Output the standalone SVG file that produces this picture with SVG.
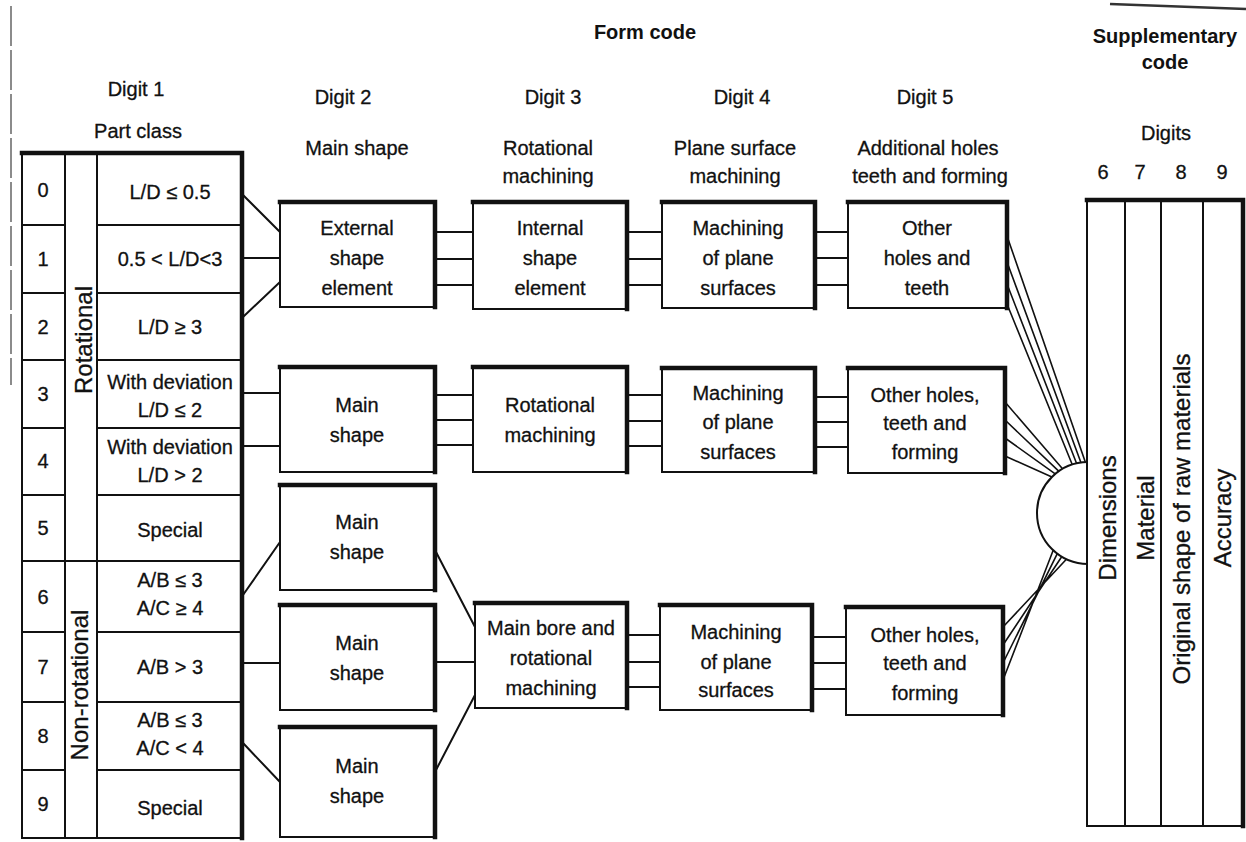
<svg xmlns="http://www.w3.org/2000/svg" width="1246" height="842" viewBox="0 0 1246 842">
<style>
.t{font-family:"Liberation Sans",Arial,sans-serif;font-size:20px;text-anchor:middle;dominant-baseline:central;fill:#111;stroke:#111;stroke-width:0.3}
.b{font-family:"Liberation Sans",Arial,sans-serif;font-size:20px;font-weight:bold;text-anchor:middle;dominant-baseline:central;fill:#111}
.r{font-family:"Liberation Sans",Arial,sans-serif;font-size:24px;text-anchor:middle;dominant-baseline:central;fill:#111;stroke:#111;stroke-width:0.3}
.bx{fill:#fff;stroke:#111;stroke-width:2}
.th{fill:none;stroke:#111;stroke-width:4.5;stroke-linecap:square}
.ln{fill:none;stroke:#111;stroke-width:2}
.cn{fill:none;stroke:#111;stroke-width:2}
.cf{fill:none;stroke:#111;stroke-width:1.6}
</style>
<rect width="1246" height="842" fill="#fff"/>
<g id="scan-edges">
<line x1="11" y1="6" x2="11" y2="385" stroke="#666" stroke-width="1.5" stroke-dasharray="40 4"/>
<path d="M1110 4 L1246 9" stroke="#333" stroke-width="2.5" fill="none"/>
</g>
<g id="headers">
<text class="b" x="645" y="32">Form code</text>
<text class="b" x="1165" y="36">Supplementary</text>
<text class="b" x="1165" y="62">code</text>
<text class="t" x="136" y="89">Digit 1</text>
<text class="t" x="138" y="131">Part class</text>
<text class="t" x="343" y="97">Digit 2</text>
<text class="t" x="357" y="148">Main shape</text>
<text class="t" x="553" y="97">Digit 3</text>
<text class="t" x="548" y="148">Rotational</text>
<text class="t" x="548" y="176">machining</text>
<text class="t" x="742" y="97">Digit 4</text>
<text class="t" x="735" y="148">Plane surface</text>
<text class="t" x="735" y="176">machining</text>
<text class="t" x="925" y="97">Digit 5</text>
<text class="t" x="928" y="148">Additional holes</text>
<text class="t" x="930" y="176">teeth and forming</text>
<text class="t" x="1166" y="133">Digits</text>
<text class="t" x="1103" y="172">6</text>
<text class="t" x="1140" y="172">7</text>
<text class="t" x="1181" y="172">8</text>
<text class="t" x="1222" y="172">9</text>
</g>
<g id="digit1-table">
<rect class="bx" x="22" y="153" width="220" height="685"/>
<path class="th" d="M22 153 H242 V838"/>
<path class="ln" d="M65 153 V838 M97 153 V838 M22 561 H242
M22 225 H65 M97 225 H242
M22 293 H65 M97 293 H242
M22 360 H65 M97 360 H242
M22 428 H65 M97 428 H242
M22 495 H65 M97 495 H242
M22 632 H65 M97 632 H242
M22 702 H65 M97 702 H242
M22 770 H65 M97 770 H242"/>
<text class="t" x="43" y="190">0</text>
<text class="t" x="43" y="259">1</text>
<text class="t" x="43" y="327">2</text>
<text class="t" x="43" y="394">3</text>
<text class="t" x="43" y="461">4</text>
<text class="t" x="43" y="528">5</text>
<text class="t" x="43" y="597">6</text>
<text class="t" x="43" y="667">7</text>
<text class="t" x="43" y="736">8</text>
<text class="t" x="43" y="804">9</text>
<text class="r" x="83" y="340" font-size="22" transform="rotate(-90 83 340)">Rotational</text>
<text class="r" x="79" y="685" transform="rotate(-90 79 685)">Non-rotational</text>
<text class="t" x="170" y="192">L/D ≤ 0.5</text>
<text class="t" x="170" y="259">0.5 &lt; L/D&lt;3</text>
<text class="t" x="170" y="327">L/D ≥ 3</text>
<text class="t" x="170" y="382">With deviation</text>
<text class="t" x="170" y="410">L/D ≤ 2</text>
<text class="t" x="170" y="447">With deviation</text>
<text class="t" x="170" y="475">L/D &gt; 2</text>
<text class="t" x="170" y="530">Special</text>
<text class="t" x="170" y="580">A/B ≤ 3</text>
<text class="t" x="170" y="608">A/C ≥ 4</text>
<text class="t" x="170" y="667">A/B &gt; 3</text>
<text class="t" x="170" y="720">A/B ≤ 3</text>
<text class="t" x="170" y="748">A/C &lt; 4</text>
<text class="t" x="170" y="808">Special</text>
</g>
<g id="connectors">
<path class="cn" d="M243 195 L280 232 M243 258 L280 258 M243 317 L280 282 M243 393 L280 393 M243 446 L280 446 M243 595 L280 542 M243 663 L280 663 M243 743 L280 782"/>
<path class="cn" d="M435 232 H473 M435 259 H473 M435 285 H473 M435 395 H473 M435 420 H473 M435 445 H473 M436 552 L475 627 M436 662 H475 M436 770 L475 695"/>
<path class="cn" d="M627 232 H662 M627 259 H662 M627 285 H662 M627 395 H662 M627 421 H662 M627 446 H662 M627 635 H660 M627 662 H660 M627 687 H660"/>
<path class="cn" d="M815 232 H848 M815 258 H848 M815 285 H848 M815 397 H848 M815 422 H848 M815 447 H848 M812 637 H846 M812 663 H846 M812 689 H846"/>
<path class="cf" d="M1007 236 L1085.3 462.1 M1007 262 L1080.9 462.5 M1007 284 L1076.5 463.3 M1007 304 L1072.2 464.5"/>
<path class="cf" d="M1005 402 L1062.5 468.8 M1005 420 L1058.7 471.2 M1005 438 L1055.2 473.9 M1005 456 L1051.9 476.9"/>
<path class="cf" d="M1003 627 L1066.4 559.2 M1003 645 L1061.7 556.7 M1003 663 L1057.3 553.7 M1003 680 L1053.2 550.3"/>
</g>
<g id="d2-external">
<rect class="bx" x="280" y="202" width="155" height="105"/><path class="th" d="M280 202 H435 V307"/>
<text class="t" x="357" y="228">External</text><text class="t" x="357" y="258">shape</text><text class="t" x="357" y="288">element</text>
</g>
<g id="d2-main-1">
<rect class="bx" x="280" y="367" width="155" height="105"/><path class="th" d="M280 367 H435 V472"/>
<text class="t" x="357" y="405">Main</text><text class="t" x="357" y="435">shape</text>
</g>
<g id="d2-main-2">
<rect class="bx" x="280" y="485" width="155" height="105"/><path class="th" d="M280 485 H435 V590"/>
<text class="t" x="357" y="522">Main</text><text class="t" x="357" y="552">shape</text>
</g>
<g id="d2-main-3">
<rect class="bx" x="280" y="605" width="155" height="105"/><path class="th" d="M280 605 H435 V710"/>
<text class="t" x="357" y="643">Main</text><text class="t" x="357" y="673">shape</text>
</g>
<g id="d2-main-4">
<rect class="bx" x="280" y="727" width="155" height="110"/><path class="th" d="M280 727 H435 V837"/>
<text class="t" x="357" y="766">Main</text><text class="t" x="357" y="796">shape</text>
</g>
<g id="d3-internal">
<rect class="bx" x="473" y="202" width="154" height="107"/><path class="th" d="M473 202 H627 V309"/>
<text class="t" x="550" y="228">Internal</text><text class="t" x="550" y="258">shape</text><text class="t" x="550" y="288">element</text>
</g>
<g id="d3-rotational">
<rect class="bx" x="473" y="367" width="154" height="105"/><path class="th" d="M473 367 H627 V472"/>
<text class="t" x="550" y="405">Rotational</text><text class="t" x="550" y="435">machining</text>
</g>
<g id="d3-mainbore">
<rect class="bx" x="475" y="603" width="152" height="105"/><path class="th" d="M475 603 H627 V708"/>
<text class="t" x="551" y="628">Main bore and</text><text class="t" x="551" y="658">rotational</text><text class="t" x="551" y="688">machining</text>
</g>
<g id="d4-plane-1">
<rect class="bx" x="662" y="202" width="153" height="106"/><path class="th" d="M662 202 H815 V308"/>
<text class="t" x="738" y="228">Machining</text><text class="t" x="738" y="258">of plane</text><text class="t" x="738" y="288">surfaces</text>
</g>
<g id="d4-plane-2">
<rect class="bx" x="662" y="368" width="153" height="104"/><path class="th" d="M662 368 H815 V472"/>
<text class="t" x="738" y="393">Machining</text><text class="t" x="738" y="422">of plane</text><text class="t" x="738" y="452">surfaces</text>
</g>
<g id="d4-plane-3">
<rect class="bx" x="660" y="605" width="152" height="105"/><path class="th" d="M660 605 H812 V710"/>
<text class="t" x="736" y="632">Machining</text><text class="t" x="736" y="662">of plane</text><text class="t" x="736" y="690">surfaces</text>
</g>
<g id="d5-holes-1">
<rect class="bx" x="848" y="202" width="159" height="106"/><path class="th" d="M848 202 H1007 V308"/>
<text class="t" x="927" y="228">Other</text><text class="t" x="927" y="258">holes and</text><text class="t" x="927" y="288">teeth</text>
</g>
<g id="d5-holes-2">
<rect class="bx" x="848" y="368" width="157" height="105"/><path class="th" d="M848 368 H1005 V473"/>
<text class="t" x="925" y="395">Other holes,</text><text class="t" x="925" y="423">teeth and</text><text class="t" x="925" y="452">forming</text>
</g>
<g id="d5-holes-3">
<rect class="bx" x="846" y="607" width="157" height="108"/><path class="th" d="M846 607 H1003 V715"/>
<text class="t" x="925" y="635">Other holes,</text><text class="t" x="925" y="663">teeth and</text><text class="t" x="925" y="693">forming</text>
</g>
<g id="supplementary">
<path class="ln" d="M1088 462 A51 51 0 0 0 1088 564" fill="#fff"/>
<rect class="bx" x="1087" y="200" width="156" height="626"/>
<path class="th" d="M1087 200 H1243 V826"/>
<path class="ln" d="M1125 200 V826 M1161 200 V826 M1203 200 V826"/>
<text class="r" x="1107" y="518" transform="rotate(-90 1107 518)">Dimensions</text>
<text class="r" x="1145" y="518" transform="rotate(-90 1145 518)">Material</text>
<text class="r" x="1181" y="519" transform="rotate(-90 1181 519)">Original shape of raw materials</text>
<text class="r" x="1222" y="518" transform="rotate(-90 1222 518)">Accuracy</text>
</g>
</svg>
